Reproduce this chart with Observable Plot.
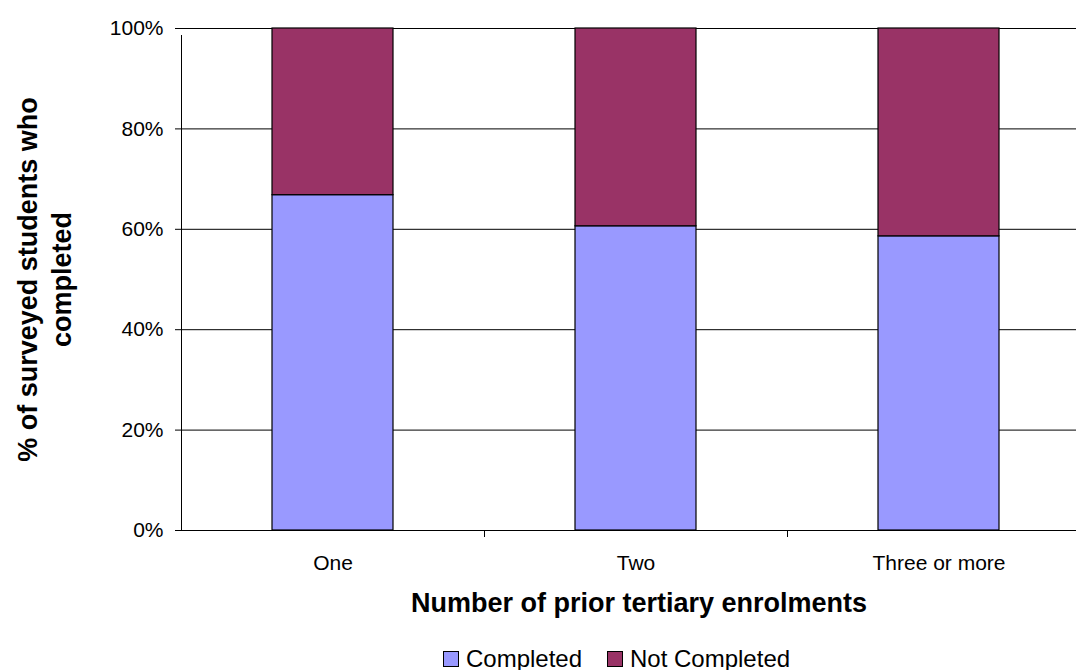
<!DOCTYPE html>
<html>
<head>
<meta charset="utf-8">
<script src="https://cdn.jsdelivr.net/npm/d3@7"></script>
<script src="https://cdn.jsdelivr.net/npm/@observablehq/plot@0.6"></script>
<style>
  html, body { margin: 0; padding: 0; background: #fff; overflow: hidden; }
  body { font-family: "Liberation Sans", Arial, sans-serif; }
  #chart svg { display: block; }
  #legend { position: relative; height: 30px; }
  .item { position: absolute; top: 7px; height: 24px; display: flex; align-items: center; font-size: 24px; color: #000; line-height: 24px; white-space: nowrap; }
  .swatch { width: 14px; height: 14px; border: 1px solid #000; margin-right: 7px; }
</style>
</head>
<body>
<div id="chart"></div>
<div id="legend"></div>
<script>
const categories = ["One", "Two", "Three or more"];
const completed = [66.8, 60.6, 58.6];
const notCompleted = [33.2, 39.4, 41.4];
const seriesNames = ["Completed", "Not Completed"];
const seriesColors = ["#9999FF", "#993366"];
const yTicks = [0, 20, 40, 60, 80, 100];
const xTitle = "Number of prior tertiary enrolments";
const yTitle = "% of surveyed students who\ncompleted";

const data = [];
categories.forEach((c, i) => {
  data.push({category: c, series: seriesNames[0], value: completed[i]});
  data.push({category: c, series: seriesNames[1], value: notCompleted[i]});
});

const W = 1076, H = 640;
const left = 181, rightEdge = 1090;
const step = (rightEdge - left) / categories.length;

const chart = Plot.plot({
  width: W,
  height: H,
  marginTop: 28,
  marginBottom: 110,
  marginLeft: left,
  marginRight: 0,
  style: {fontFamily: '"Liberation Sans", Arial, sans-serif', fontSize: "21px", color: "#000", background: "#fff", overflow: "hidden"},
  x: {domain: categories, range: [left, rightEdge], paddingInner: 0.6, paddingOuter: 0.3, label: null},
  y: {domain: [0, 100], label: null},
  color: {domain: seriesNames, range: seriesColors},
  marks: [
    Plot.ruleY(yTicks, {y: d => d, stroke: "#000", strokeWidth: 1}),
    Plot.barY(data, {x: "category", y: "value", fill: "series", stroke: "#000", strokeWidth: 1.2}),
    Plot.ruleX([categories[0]], {x: d => d, dx: -step / 2, y1: 0, y2: 100, insetBottom: -7, stroke: "#000"}),
    Plot.ruleX(categories.slice(1), {x: d => d, dx: -step / 2, y1: 0, y2: 0, insetBottom: -7, stroke: "#000"}),
    Plot.axisY({ticks: yTicks, tickFormat: d => d + "%", tickSize: 6, tickPadding: 12, label: null, stroke: "#000"}),
    Plot.axisX({tickSize: 0, tickPadding: 25, label: null}),
    Plot.text([xTitle], {frameAnchor: "bottom", dx: 10, dy: 73, lineAnchor: "middle", textAnchor: "middle", fontSize: 27, fontWeight: "bold"}),
    Plot.text([yTitle], {frameAnchor: "left", dx: -138, rotate: -90, lineAnchor: "middle", textAnchor: "middle", lineHeight: 1.25, fontSize: 27, fontWeight: "bold"})
  ]
});
document.getElementById("chart").appendChild(chart);

const legend = document.getElementById("legend");
const lefts = [443, 607];
seriesNames.forEach((name, i) => {
  const item = document.createElement("div");
  item.className = "item";
  item.style.left = lefts[i] + "px";
  const sw = document.createElement("div");
  sw.className = "swatch";
  sw.style.background = seriesColors[i];
  const t = document.createElement("span");
  t.textContent = name;
  item.appendChild(sw);
  item.appendChild(t);
  legend.appendChild(item);
});
</script>
</body>
</html>
